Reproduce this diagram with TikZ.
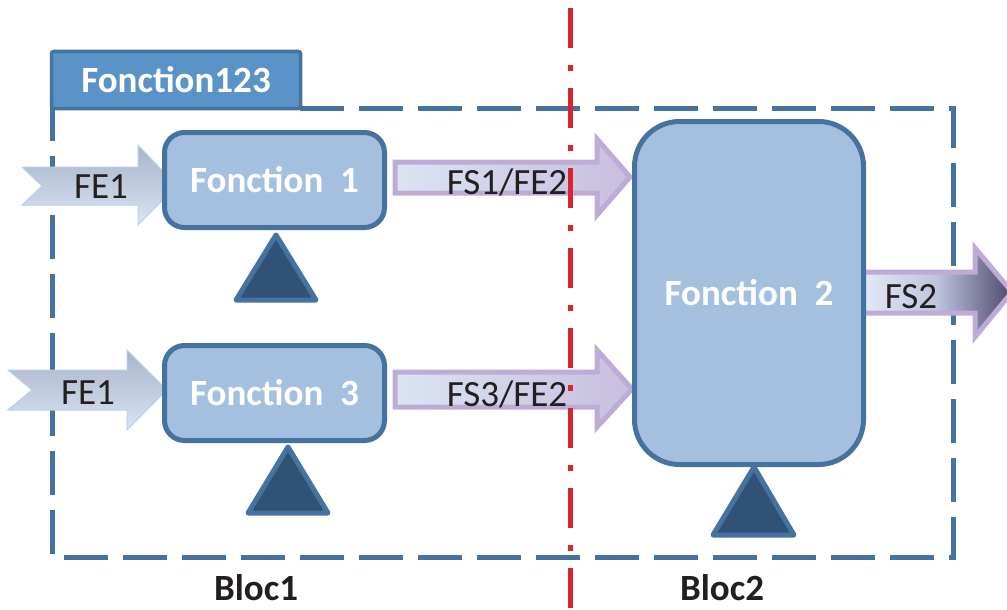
\documentclass[tikz,border=0pt]{standalone}
\usepackage{fontspec}
\setmainfont{Carlito}
\usepackage{tikz}
\usetikzlibrary{positioning, calc}

\definecolor{bordbleu}{RGB}{70,114,160}
\definecolor{fondbloc}{RGB}{164,192,222}
\definecolor{fondtitre}{RGB}{91,146,200}
\definecolor{fondtri}{RGB}{47,82,118}
\definecolor{rouge}{RGB}{215,38,46}
\definecolor{lavande}{RGB}{190,172,214}
\definecolor{texte}{RGB}{35,31,32}

\begin{document}
\begin{tikzpicture}[x=1pt, y=-1pt,
  fonction/.style={draw=bordbleu, line width=5, fill=fondbloc, rounded corners=20,
    text=white, font=\fontsize{37}{40}\selectfont\bfseries, inner sep=0},
  support/.style={draw=bordbleu, line width=5, fill=fondtri, line join=round},
  entree/.style={draw={rgb,255:red,188;green,206;blue,230}, line width=1,
    top color={rgb,255:red,168;green,180;blue,200}, bottom color={rgb,255:red,216;green,228;blue,244}},
  sortie/.style={draw=lavande, line width=5, line join=miter,
    left color={rgb,255:red,218;green,228;blue,243}, right color={rgb,255:red,200;green,190;blue,222}},
  flux/.style={text=texte, font=\fontsize{37}{40}\selectfont, inner sep=0},
  bloc/.style={text=texte, font=\fontsize{37}{40}\selectfont\bfseries, inner sep=0}]

\useasboundingbox (0,0) rectangle (1007,610);

% cadre du bloc
\draw[bordbleu, line width=5, dash pattern=on 44 off 15]
  (300,108) -- (953,108) -- (953,557) -- (52,557) -- (52,108);
\node[draw=bordbleu, line width=3.5, fill=fondtitre, rounded corners=2, minimum width=249,
  minimum height=57, text=white, font=\fontsize{37}{40}\selectfont\bfseries] (titre) at (176,80) {Fonction123};

% fleches d'entree
\draw[entree] (22,167) -- (138,167) -- (138,145) -- (177,186) -- (138,225) -- (138,205) -- (22,205) -- (42,186) -- cycle;
\draw[entree] (8,370) -- (127,370) -- (127,350) -- (167,390) -- (127,430) -- (127,410) -- (8,410) -- (32,390) -- cycle;
\node[flux] (fe1a) at (101,187) {FE1};
\node[flux] (fe1b) at (88,393) {FE1};

% fleches de sortie
\draw[sortie] (395,162) -- (597,162) -- (597,139) -- (630,177) -- (597,215) -- (597,193) -- (395,193) -- cycle;
\draw[sortie] (395,372) -- (597,372) -- (597,350) -- (632,389) -- (597,427) -- (597,407) -- (395,407) -- cycle;
\draw[sortie, left color={rgb,255:red,228;green,234;blue,245}, right color={rgb,255:red,78;green,72;blue,108},
  middle color={rgb,255:red,190;green,196;blue,222}]
  (860,272) -- (975,272) -- (975,248) -- (1012,292) -- (975,337) -- (975,313) -- (860,313) -- cycle;
\node[flux] (fs1) at (507,182) {FS1/FE2};
\node[flux] (fs3) at (507,394) {FS3/FE2};

% fonctions
\node[fonction, minimum width=220, minimum height=95] (f1) at (274.5,180) {Fonction\ \ 1};
\node[fonction, minimum width=220, minimum height=95] (f3) at (274.5,393) {Fonction\ \ 3};
\node[fonction, minimum width=229, minimum height=343, rounded corners=45] (f2) at (749,293) {Fonction\ \ 2};
\node[flux] (fs2) at (911,297) {FS2};

% supports
\draw[support] ($(f1.south)+(1.5,5)$) -- ++(40,65) -- ++(-80,0) -- cycle;
\draw[support] ($(f3.south)+(13.5,4)$) -- ++(40,66) -- ++(-80,0) -- cycle;
\draw[support] ($(f2.south)+(5,0)$) -- ++(40,68) -- ++(-81,0) -- cycle;

% blocs
\node[bloc] (bloc1) at (256,588) {Bloc1};
\node[bloc] (bloc2) at (722,588) {Bloc2};

% separation
\draw[rouge, line width=5, dash pattern=on 40 off 17 on 6 off 17] (570,8) -- (570,610);

\end{tikzpicture}
\end{document}
